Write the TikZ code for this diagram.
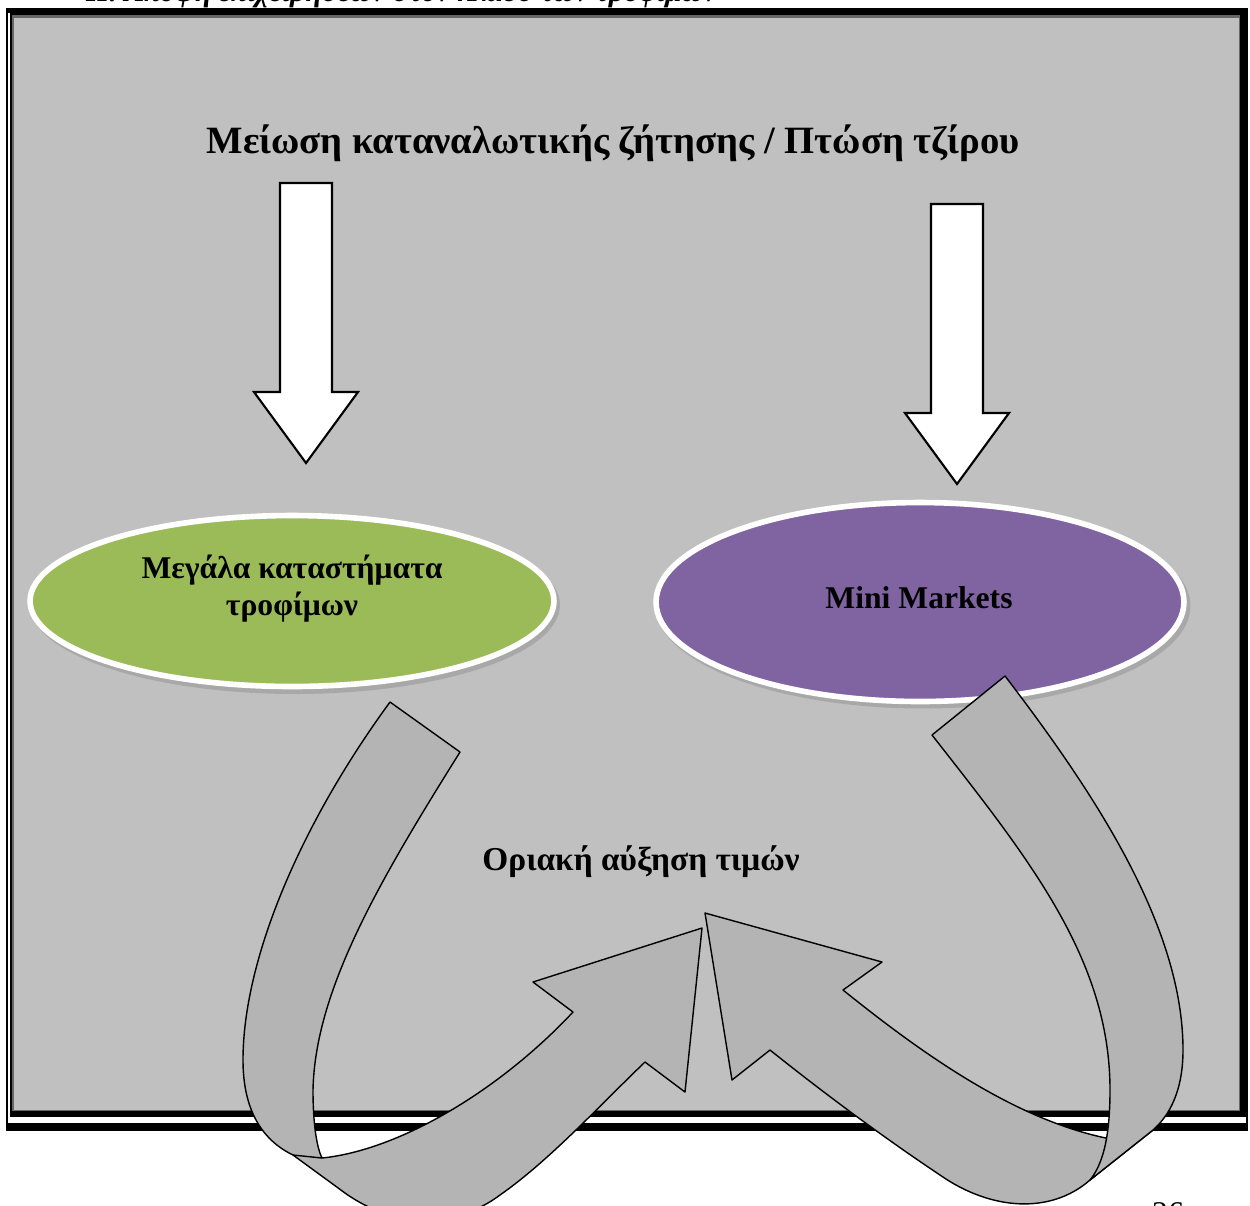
\documentclass[tikz,border=0pt]{standalone}
\usepackage{fontspec}
\setmainfont{Liberation Serif}
\usetikzlibrary{shapes.geometric}

\definecolor{pagegray}{RGB}{192,192,192}
\definecolor{ribbongray}{RGB}{180,180,180}
\definecolor{largegreen}{RGB}{155,187,89}
\definecolor{minipurple}{RGB}{128,100,162}

\tikzset{
  oval/.style={ellipse, draw=white, line width=3.2pt, inner sep=0pt},
  ovaltext/.style={align=center, font=\bfseries\fontsize{18}{21}\selectfont},
  ovalshadow/.style={ellipse, fill=black!45, opacity=0.45, inner sep=0pt},
  bigtext/.style={font=\bfseries\fontsize{22}{26}\selectfont},
  ribbon/.style={fill=ribbongray, draw=black, line width=0.8pt, line join=round},
  downarrow/.style={fill=white, draw=black, line width=1.2pt, line join=miter},
}

\begin{document}
\begin{tikzpicture}[x=0.02cm,y=-0.02cm]
	\clip (0,0) rectangle (1250,1205);
	\fill[white] (0,0) rectangle (1250,1205);

	%FRAME
	\fill[black] (6,8) rectangle (1248,1131);
	\fill[white] (8,13) rectangle (1246,1123);
	\fill[black] (10,13) rectangle (1246,1117);
	\fill[black!60] (12,15) rectangle (1240,1111);
	\fill[pagegray] (14,18) rectangle (1239,1110);

	%CUT TEXTS
	\node[anchor=base west, font=\bfseries\itshape\fontsize{17}{20}\selectfont] (heading) at (80,1) {Η. Άποψη επιχειρήσεων στον κλάδο των τροφίμων};
	\node[anchor=north, font=\fontsize{18}{20}\selectfont] (page) at (1168,1196) {26};

	%TOP
	\node[bigtext] (drop) at (613,143) {Μείωση καταναλωτικής ζήτησης / Πτώση τζίρου};
	\foreach \cx/\ty in {306/183, 957/204}
		\draw[downarrow] (\cx-26,\ty) -- (\cx+26,\ty) -- (\cx+26,\ty+209) -- (\cx+52,\ty+209)
			-- (\cx,\ty+280) -- (\cx-52,\ty+209) -- (\cx-26,\ty+209) -- cycle;

	%OVALS
	\node[ovalshadow, minimum width=10.6cm, minimum height=3.56cm] at (295,605) {};
	\node[ovalshadow, minimum width=10.7cm, minimum height=4.1cm] at (923,606) {};
	\node[oval, fill=largegreen, minimum width=10.48cm, minimum height=3.42cm] (large) at (292,601) {};
	\node[oval, fill=minipurple, minimum width=10.56cm, minimum height=3.98cm] (mini) at (920,602) {};
	\node[ovaltext] (largetext) at (292,589) {Μεγάλα καταστήματα\\τροφίμων};
	\node[ovaltext] (minitext) at (919,598) {Mini Markets};

	\node[bigtext, font=\bfseries\fontsize{19}{22}\selectfont] (rise) at (641,862) {Οριακή αύξηση τιμών};

	%LEFT RIBBON
	\draw[ribbon] (390,702)
		.. controls (300,825) and (243,960) .. (243,1060)
		.. controls (243,1110) and (262,1140) .. (293,1155)
		-- (345,1193)
		.. controls (400,1232) and (460,1225) .. (500,1195)
		.. controls (550,1160) and (600,1105) .. (645,1062)
		-- (685,1092) -- (702,928) -- (533,982) -- (573,1012)
		.. controls (500,1090) and (400,1150) .. (322,1158)
		.. controls (318,1150) and (313,1130) .. (313,1090)
		.. controls (315,990) and (380,880) .. (460,752)
		-- cycle;
	\draw[ribbon] (293,1155) -- (322,1158); %fold

	%RIGHT RIBBON
	\draw[ribbon] (843,990)
		.. controls (930,1060) and (1030,1130) .. (1130,1142)
		-- (1153,1130) -- (1090,1180)
		.. controls (1050,1215) and (990,1210) .. (940,1175)
		.. controls (880,1135) and (820,1090) .. (770,1050)
		-- (732,1080) -- (705,913) -- (882,962) -- cycle;
	\draw[ribbon] (1005,676)
		.. controls (1100,800) and (1183,930) .. (1183,1050)
		.. controls (1183,1090) and (1170,1115) .. (1153,1130)
		-- (1090,1180)
		.. controls (1102,1165) and (1110,1140) .. (1110,1090)
		.. controls (1110,960) and (1030,860) .. (932,735)
		-- cycle;
\end{tikzpicture}
\end{document}
